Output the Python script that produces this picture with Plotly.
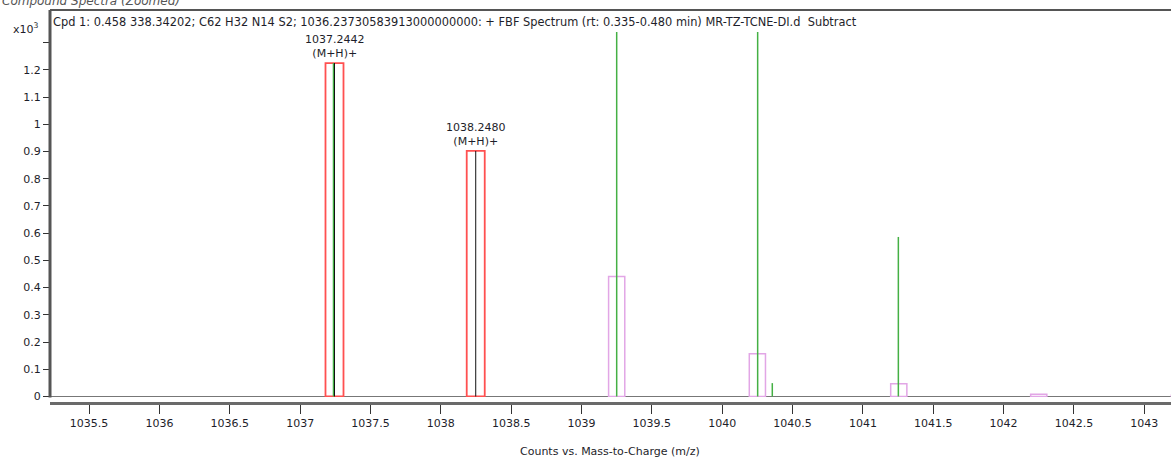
import plotly.graph_objects as go

# ---- data (x10^3 counts) ----
matched_mz = [1037.2442, 1038.2480]
matched_int = [1.225, 0.902]
matched_labels = ["1037.2442<br>(M+H)+", "1038.2480<br>(M+H)+"]

pred_mz = [1039.25, 1040.25, 1041.255, 1042.25, 1043.25]
pred_int = [0.441, 0.157, 0.047, 0.008, 0.004]

green_mz = [1037.237, 1039.25, 1040.252, 1040.356, 1041.252]
green_int = [1.225, 2.0, 2.0, 0.049, 0.586]

black_mz = [1037.2442, 1038.2480]
black_int = [1.225, 0.902]

xtick_vals = [1035.5, 1036, 1036.5, 1037, 1037.5, 1038, 1038.5, 1039, 1039.5,
              1040, 1040.5, 1041, 1041.5, 1042, 1042.5, 1043]
ytick_vals = [0, 0.1, 0.2, 0.3, 0.4, 0.5, 0.6, 0.7, 0.8, 0.9, 1.0, 1.1, 1.2, 1.3]
ytick_text = ["0", "0.1", "0.2", "0.3", "0.4", "0.5", "0.6", "0.7", "0.8", "0.9", "1", "1.1", "1.2", " "]

title_text = ("Cpd 1: 0.458 338.34202; C62 H32 N14 S2; 1036.23730583913000000000: + FBF Spectrum "
              "(rt: 0.335-0.480 min) MR-TZ-TCNE-DI.d  Subtract")

FONT = "DejaVu Sans"
TXT = "#1e1e2a"


def stems(xs, ys):
    X, Y = [], []
    for x, y in zip(xs, ys):
        X += [x, x, None]
        Y += [0, y, None]
    return X, Y


fig = go.Figure()

fig.add_trace(go.Bar(x=pred_mz, y=pred_int, width=0.115,
                     marker=dict(color="rgba(0,0,0,0)", line=dict(color="#e2a6e6", width=1.5)),
                     hoverinfo="x+y"))
fig.add_trace(go.Bar(x=matched_mz, y=matched_int, width=0.128,
                     marker=dict(color="rgba(0,0,0,0)", line=dict(color="#ff5050", width=1.8)),
                     hoverinfo="x+y"))

gx, gy = stems(green_mz, green_int)
fig.add_trace(go.Scatter(x=gx, y=gy, mode="lines", line=dict(color="#44b044", width=1.5),
                         hoverinfo="skip"))
bx, by = stems(black_mz, black_int)
fig.add_trace(go.Scatter(x=bx, y=by, mode="lines", line=dict(color="#111111", width=1),
                         hoverinfo="skip"))

for x, y, t in zip(matched_mz, matched_int, matched_labels):
    fig.add_annotation(x=x, y=y, text=t, showarrow=False, yanchor="bottom", yshift=1,
                       font=dict(family=FONT, size=11, color=TXT))

PH = 371.0  # paper height px (32..403)


def py(pix):
    return (403 - pix) / PH


fig.add_annotation(xref="paper", yref="paper", x=0, xshift=1, y=py(22), text=title_text,
                   showarrow=False, xanchor="left", yanchor="middle",
                   font=dict(family=FONT, size=11.4, color=TXT))
fig.add_annotation(xref="paper", yref="paper", x=(26 - 50) / 1121, y=py(29),
                   text="x10<sup>3</sup>", showarrow=False, xanchor="center", yanchor="middle",
                   font=dict(family=FONT, size=11, color=TXT))
fig.add_annotation(xref="paper", yref="paper", x=-50 / 1121, y=py(1),
                   text="<i>Compound Spectra (Zoomed)</i>", showarrow=False, xanchor="left",
                   yanchor="middle", font=dict(family=FONT, size=12, color="#555555"))
fig.add_annotation(xref="paper", yref="paper", x=0.4996, y=py(451),
                   text="Counts vs. Mass-to-Charge (m/z)", showarrow=False,
                   xanchor="center", yanchor="middle",
                   font=dict(family=FONT, size=11, color=TXT))

# frame lines (top and left)
fig.add_shape(type="line", xref="paper", yref="paper", x0=0, x1=1, y0=py(10), y1=py(10),
              line=dict(color="#555555", width=2))
fig.add_shape(type="line", xref="paper", yref="paper", x0=0, x1=0, y0=py(397.5), y1=py(10),
              line=dict(color="#555555", width=3))

fig.update_layout(
    width=1171, height=459,
    margin=dict(l=50, r=0, t=32, b=56),
    paper_bgcolor="white", plot_bgcolor="white",
    barmode="overlay", showlegend=False,
    font=dict(family=FONT, size=11, color=TXT),
    xaxis=dict(range=[1035.222, 1043.19], tickvals=xtick_vals,
               ticktext=[f"{v:g}" for v in xtick_vals],
               anchor="free", position=0,
               showline=True, linecolor="#6a6a6a", linewidth=3,
               ticks="outside", ticklen=9, tickwidth=1.2, tickcolor="#333333",
               showgrid=False, zeroline=False,
               tickfont=dict(family=FONT, size=11, color=TXT)),
    yaxis=dict(range=[-0.002, 1.339], domain=[6 / PH, 1], tickvals=ytick_vals,
               ticktext=ytick_text, showline=False,
               ticks="outside", ticklen=6, tickwidth=1.2, tickcolor="#333333",
               showgrid=False, zeroline=True, zerolinecolor="#777777", zerolinewidth=1,
               tickfont=dict(family=FONT, size=11, color=TXT)),
)

fig.write_html("out.html", config={"displayModeBar": False},
               post_script="document.body.style.margin='0';document.body.style.overflow='hidden';")
